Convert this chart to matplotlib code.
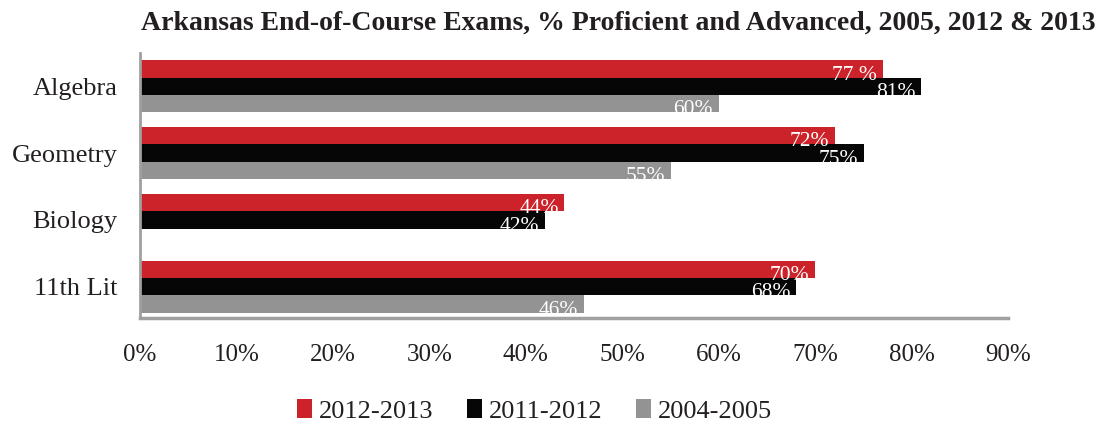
import matplotlib.pyplot as plt
import numpy as np

plt.rcParams['font.family'] = ['Liberation Serif', 'DejaVu Serif']

# Data
categories = ['Algebra', 'Geometry', 'Biology', '11th Lit']
series_names = ['2012-2013', '2011-2012', '2004-2005']
vals_2013 = [77, 72, 44, 70]
vals_2012 = [81, 75, 42, 68]
vals_2005 = [60, 55, None, 46]
label_2013 = ['77 %', '72%', '44%', '70%']
label_2012 = ['81%', '75%', '42%', '68%']
label_2005 = ['60%', '55%', '', '46%']
x_ticks = list(range(0, 100, 10))
x_tick_labels = [f'{t}%' for t in x_ticks]

# Style
RED = '#cc2229'
BLACK = '#060606'
GRAY = '#939393'
SPINE = '#a0a0a0'
TEXT = '#231f20'
colors = [RED, BLACK, GRAY]

fig = plt.figure(figsize=(11.02, 4.26), dpi=100)
ax = fig.add_axes([0.127, 0.2535, 0.788, 0.622])

bar_h = 0.26
y = np.arange(len(categories))
offsets = [-bar_h, 0, bar_h]
all_vals = [vals_2013, vals_2012, vals_2005]
all_labels = [label_2013, label_2012, label_2005]

for vals, labels, off, col, name in zip(all_vals, all_labels, offsets, colors, series_names):
    first = True
    for i, (v, lab) in enumerate(zip(vals, labels)):
        if v is None:
            continue
        b = ax.barh(y[i] + off, v, height=bar_h, color=col,
                    label=name if first else None)
        first = False
        rect = b.patches[0]
        t = ax.text(v - 0.6, y[i] + off + bar_h / 2 + 0.03, lab,
                    ha='right', va='baseline', color='white', fontsize=15.5)
        t.set_clip_path(rect)

ax.set_xlim(0, 90)
ax.set_ylim(3.47, -0.5)
ax.set_xticks(x_ticks)
ax.set_xticklabels(x_tick_labels, color=TEXT)
ax.set_yticks(y)
ax.set_yticklabels(categories, color=TEXT)
ax.tick_params(axis='x', length=0, pad=19, labelsize=18)
ax.tick_params(axis='y', length=0, pad=16, labelsize=19)

for s in ['top', 'right']:
    ax.spines[s].set_visible(False)
ax.spines['left'].set_color(SPINE)
ax.spines['left'].set_linewidth(2)
ax.spines['bottom'].set_color(SPINE)
ax.spines['bottom'].set_linewidth(2.5)

fig.text(0.5615, 0.945, 'Arkansas End-of-Course Exams, % Proficient and Advanced, 2005, 2012 & 2013',
         ha='center', va='center', fontsize=20, fontweight='bold', color=TEXT)

leg = fig.legend(loc='center', bbox_to_anchor=(0.485, 0.035), ncol=3, frameon=False,
                 fontsize=19, handlelength=0.55, handleheight=0.7, handletextpad=0.25,
                 columnspacing=1.3)
for txt in leg.get_texts():
    txt.set_color(TEXT)

fig.savefig('out.png', dpi=100)
